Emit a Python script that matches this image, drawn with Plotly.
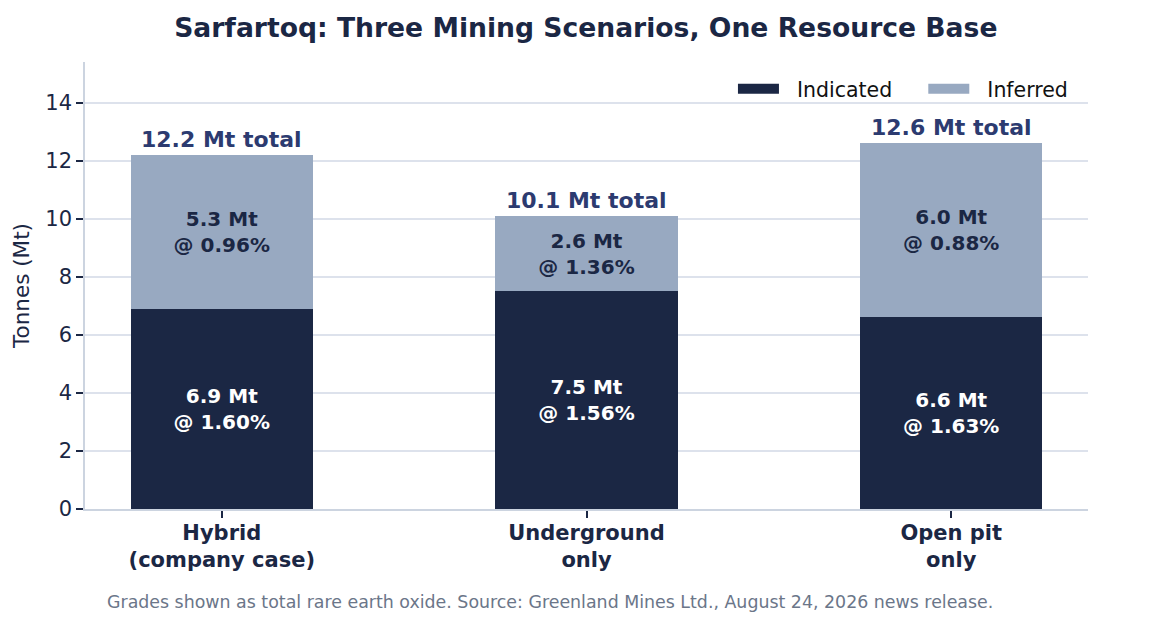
import plotly.graph_objects as go

categories = ["Hybrid<br>(company case)", "Underground<br>only", "Open pit<br>only"]
indicated_mt = [6.9, 7.5, 6.6]
indicated_grade = [1.60, 1.56, 1.63]
inferred_mt = [5.3, 2.6, 6.0]
inferred_grade = [0.96, 1.36, 0.88]
totals_mt = [12.2, 10.1, 12.6]
y_ticks = [0, 2, 4, 6, 8, 10, 12, 14]

NAVY = "#1b2744"
SLATE = "#98a9c1"
TOTAL_C = "#2c3b70"
FONT = "DejaVu Sans"
NB = "\u00a0"

x = list(range(len(categories)))

fig = go.Figure()
fig.add_trace(go.Bar(
    x=x, y=indicated_mt, name="Indicated", width=0.5, showlegend=False,
    marker=dict(color=NAVY, line=dict(width=0)),
    text=[f"<b>{m:.1f} Mt<br>@ {g:.2f}%</b>" for m, g in zip(indicated_mt, indicated_grade)],
    textposition="inside", insidetextanchor="middle",
    textfont=dict(color="white", size=20, family=FONT),
    hoverinfo="skip",
))
fig.add_trace(go.Bar(
    x=x, y=inferred_mt, name="Inferred", width=0.5, showlegend=False,
    marker=dict(color=SLATE, line=dict(width=0)),
    text=[f"<b>{m:.1f} Mt<br>@ {g:.2f}%</b>" for m, g in zip(inferred_mt, inferred_grade)],
    textposition="inside", insidetextanchor="middle",
    textfont=dict(color=NAVY, size=20, family=FONT),
    hoverinfo="skip",
))
# legend entries (wide rectangular swatches)
legend_names = ["Indicated", "Inferred"]
legend_colors = [NAVY, SLATE]
for i, (nm, col) in enumerate(zip(legend_names, legend_colors)):
    pad_after = NB * 4 if i < len(legend_names) - 1 else ""
    fig.add_trace(go.Scatter(x=[None], y=[None], mode="lines", name=NB * 2 + nm + pad_after,
                             line=dict(color=col, width=14), hoverinfo="skip"))

for xi, t in zip(x, totals_mt):
    fig.add_annotation(x=xi, y=t, text=f"<b>{t:.1f} Mt total</b>", showarrow=False,
                       yanchor="bottom", yshift=1,
                       font=dict(size=22, color=TOTAL_C, family=FONT))

fig.add_annotation(xref="paper", yref="paper", x=0.4636, y=-0.208,
                   text="Grades shown as total rare earth oxide. Source: Greenland Mines Ltd., August 24, 2026 news release.",
                   showarrow=False, xanchor="center", yanchor="middle",
                   font=dict(size=17.4, color="#6b7689", family=FONT))

fig.update_layout(
    barmode="stack",
    width=1172, height=620,
    margin=dict(l=77, r=92, t=54, b=119),
    paper_bgcolor="white", plot_bgcolor="white",
    font=dict(family=FONT, color=NAVY),
    title=dict(text="<b>Sarfartoq: Three Mining Scenarios, One Resource Base</b>",
               x=0.493, xref="container", xanchor="center", y=0.968, yanchor="middle",
               font=dict(size=26.6, color=NAVY, family=FONT)),
    legend=dict(orientation="h", x=0.985, xanchor="right", y=0.94, yanchor="middle",
                bgcolor="rgba(0,0,0,0)", font=dict(size=20.5, color="#111111", family=FONT),
                traceorder="normal", itemwidth=41),
    showlegend=True,
)
fig.update_xaxes(
    tickmode="array", tickvals=x, ticktext=[f"<b>{c}</b>" for c in categories],
    range=[-0.375, 2.375], showgrid=False, zeroline=False,
    showline=True, linecolor="#ccd4e0", linewidth=1.5,
    ticks="outside", ticklen=7, tickcolor=NAVY, tickwidth=1.5,
    tickfont=dict(size=21, color=NAVY, family=FONT), ticklabelstandoff=-3,
)
fig.update_yaxes(
    range=[0, 15.4], tickmode="array", tickvals=y_ticks,
    showgrid=True, gridcolor="#dde2ec", gridwidth=1.5, zeroline=False,
    showline=True, linecolor="#ccd4e0", linewidth=1.5,
    ticks="outside", ticklen=7, tickcolor=NAVY, tickwidth=1.5,
    tickfont=dict(size=21, color=NAVY, family=FONT),
    title=dict(text="Tonnes (Mt)", font=dict(size=21.5, color=NAVY, family=FONT), standoff=10),
)

fig.write_html("out.html")
